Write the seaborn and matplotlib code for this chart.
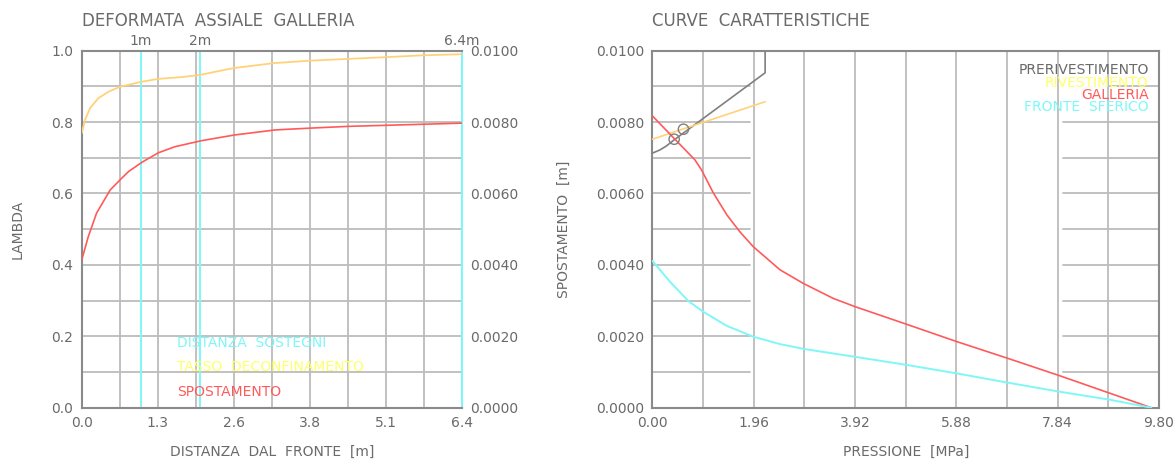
import numpy as np
import pandas as pd
import matplotlib
matplotlib.use("Agg")
import matplotlib.pyplot as plt
import seaborn as sns

# ---------------- data: left panel (DEFORMATA ASSIALE GALLERIA) ----------------
dist_lambda = [0.0, 0.056, 0.14, 0.28, 0.45, 0.645, 1.01, 1.29, 1.68, 1.99, 2.25, 2.55, 3.23, 3.84, 4.49, 5.14, 5.75, 6.4]
lambda_vals = [0.769, 0.806, 0.839, 0.867, 0.885, 0.899, 0.913, 0.921, 0.926, 0.932, 0.941, 0.951, 0.965, 0.972,
               0.977, 0.982, 0.987, 0.990]
dist_spost = [0.0, 0.11, 0.25, 0.48, 0.645, 0.785, 1.01, 1.29, 1.57, 2.02, 2.58, 3.26, 3.84, 4.49, 5.14, 6.4]
spost_vals = [0.00414, 0.00479, 0.00545, 0.00610, 0.00638, 0.00661, 0.00687, 0.00714, 0.00731, 0.00748, 0.00764,
              0.00778, 0.00783, 0.00788, 0.00791, 0.00797]
sostegni = [1.0, 2.0, 6.4]
sostegni_labels = ["1m", "2m", "6.4m"]
left_xticks = [0.0, 1.28, 2.56, 3.84, 5.12, 6.4]
left_xticklabels = ["0.0", "1.3", "2.6", "3.8", "5.1", "6.4"]
left_legend = ["DISTANZA  SOSTEGNI", "TASSO  DECONFINAMENTO", "SPOSTAMENTO"]

# ---------------- data: right panel (CURVE CARATTERISTICHE) ----------------
press_gal = [0.0, 0.822, 0.95, 1.18, 1.44, 1.69, 1.95, 2.47, 2.92, 3.50, 3.92, 4.91, 5.89, 6.88, 7.87, 8.86, 9.65]
spost_gal = [0.00817, 0.00694, 0.00666, 0.00601, 0.0054, 0.00493, 0.00451, 0.00386, 0.00348, 0.00306, 0.00283,
             0.00234, 0.00185, 0.00138, 0.0009, 0.0004, 0.0]
press_fronte = [0.0, 0.339, 0.693, 0.98, 1.44, 1.95, 2.47, 2.95, 3.63, 4.91, 5.89, 6.88, 7.87, 8.86, 9.65]
spost_fronte = [0.00411, 0.00353, 0.00299, 0.00269, 0.00229, 0.00199, 0.00178, 0.00164, 0.00149, 0.0012,
                0.00096, 0.0007, 0.00045, 0.00022, 0.0]
press_preriv = [0.0, 0.145, 0.27, 0.40, 2.18, 2.18]
spost_preriv = [0.00713, 0.00722, 0.00733, 0.00748, 0.00938, 0.0100]
press_riv = [0.0, 2.18]
spost_riv = [0.00752, 0.00857]
press_eq = [0.42, 0.60]
spost_eq = [0.00752, 0.0078]
right_xticks = [0.0, 1.96, 3.92, 5.88, 7.84, 9.80]
right_legend = ["PRERIVESTIMENTO", "RIVESTIMENTO", "GALLERIA", "FRONTE  SFERICO"]

# ---------------- style ----------------
sns.set_style("white")
plt.rcParams["font.family"] = ["DejaVu Sans"]
TXT = "#6a6a6a"
GRID = "#bcbcbc"
SPINE = "#8a8a8a"
CYAN = "#7ff7f7"
YEL_LINE = "#ffd27a"
YEL_TXT = "#ffff66"
RED = "#ff5a5a"
GREY_LINE = "#808080"
FS = 10

fig = plt.figure(figsize=(11.76, 4.59), dpi=100)

# ======================= LEFT PANEL =======================
axL = fig.add_axes([0.0695, 0.1118, 0.3231, 0.7778])
axL.set_xlim(0, 6.4)
axL.set_ylim(0, 1.0)
for xv in np.arange(0.64, 6.4, 0.64):
    axL.axvline(xv, color=GRID, lw=1.3, zorder=0)
for yv in np.arange(0.1, 1.0, 0.1):
    axL.axhline(yv, color=GRID, lw=1.3, zorder=0)
for xv in sostegni:
    axL.axvline(xv, color=CYAN, lw=1.4, zorder=1)
for xv, lab in zip(sostegni, sostegni_labels):
    axL.annotate(lab, (xv, 1.0), xytext=(0, 2), textcoords="offset points",
                 ha="center", va="bottom", color=TXT, fontsize=FS)

dfl = pd.DataFrame({"x": dist_lambda, "y": lambda_vals})
sns.lineplot(data=dfl, x="x", y="y", ax=axL, color=YEL_LINE, lw=1.3, zorder=3)

axL.set_xticks(left_xticks)
axL.set_xticklabels(left_xticklabels)
axL.set_yticks([0.0, 0.2, 0.4, 0.6, 0.8, 1.0])
axL.set_yticklabels(["0.0", "0.2", "0.4", "0.6", "0.8", "1.0"])
axL.tick_params(length=0, pad=6, colors=TXT, labelsize=FS)
axL.set_xlabel("DISTANZA  DAL  FRONTE  [m]", color=TXT, fontsize=FS, labelpad=11)
axL.set_ylabel("LAMBDA", color=TXT, fontsize=FS, labelpad=19)
axL.set_title("DEFORMATA  ASSIALE  GALLERIA", loc="left", color=TXT, fontsize=12, pad=18)
for s in ["left", "bottom", "top"]:
    axL.spines[s].set_color(SPINE)
    axL.spines[s].set_linewidth(1.5)
axL.spines["right"].set_color(CYAN)
axL.spines["right"].set_linewidth(1.5)

for lab, col, yv in zip(left_legend, [CYAN, YEL_TXT, RED], [0.18, 0.115, 0.045]):
    axL.text(1.6, yv, lab, color=col, fontsize=FS, va="center", ha="left")

axR2 = axL.twinx()
axR2.set_ylim(0, 0.01)
dfs = pd.DataFrame({"x": dist_spost, "y": spost_vals})
sns.lineplot(data=dfs, x="x", y="y", ax=axR2, color=RED, lw=1.2, zorder=3)
axR2.set_yticks(np.arange(0, 0.0101, 0.002))
axR2.set_yticklabels([f"{v:.4f}" for v in np.arange(0, 0.0101, 0.002)])
axR2.tick_params(length=0, pad=6, colors=TXT, labelsize=FS)
axR2.set_ylabel("")
axR2.set_xlabel("")
for s in axR2.spines.values():
    s.set_visible(False)

# ======================= RIGHT PANEL =======================
ax = fig.add_axes([0.5548, 0.1118, 0.4307, 0.7778])
ax.set_xlim(0, 9.8)
ax.set_ylim(0, 0.01)
for xv in np.arange(0.98, 9.8, 0.98):
    ax.axvline(xv, color=GRID, lw=1.3, zorder=0)
for yv in np.arange(0.001, 0.0095, 0.001):
    ax.plot([0, 1.88], [yv, yv], color=GRID, lw=1.3, zorder=0)
    ax.plot([8.83 if yv > 0.0085 else 7.94, 9.8], [yv, yv], color=GRID, lw=1.3, zorder=0)

sns.lineplot(x=press_preriv, y=spost_preriv, ax=ax, sort=False, estimator=None, color=GREY_LINE, lw=1.2, zorder=3)
sns.lineplot(x=press_riv, y=spost_riv, ax=ax, sort=False, estimator=None, color=YEL_LINE, lw=1.2, zorder=3)
sns.lineplot(x=press_gal, y=spost_gal, ax=ax, sort=False, estimator=None, color=RED, lw=1.2, zorder=3)
sns.lineplot(x=press_fronte, y=spost_fronte, ax=ax, sort=False, estimator=None, color=CYAN, lw=1.4, zorder=3)
sns.scatterplot(x=press_eq, y=spost_eq, ax=ax, s=55, marker="o", facecolor="none",
                edgecolor=GREY_LINE, linewidth=1.0, zorder=4)

ax.set_xticks(right_xticks)
ax.set_xticklabels([f"{v:.2f}" for v in right_xticks])
ax.set_yticks(np.arange(0, 0.0101, 0.002))
ax.set_yticklabels([f"{v:.4f}" for v in np.arange(0, 0.0101, 0.002)])
ax.tick_params(length=0, pad=6, colors=TXT, labelsize=FS)
ax.set_xlabel("PRESSIONE  [MPa]", color=TXT, fontsize=FS, labelpad=11)
ax.set_ylabel("SPOSTAMENTO  [m]", color=TXT, fontsize=FS, labelpad=18)
ax.set_title("CURVE  CARATTERISTICHE", loc="left", color=TXT, fontsize=12, pad=18)
for s in ax.spines.values():
    s.set_color(SPINE)
    s.set_linewidth(1.5)

for lab, col, yv in zip(right_legend, ["#6a6a6a", YEL_TXT, RED, CYAN], [0.00945, 0.00910, 0.00877, 0.00843]):
    ax.text(9.6, yv, lab, color=col, fontsize=FS, va="center", ha="right")

fig.savefig("out.png", dpi=100, facecolor="white")
